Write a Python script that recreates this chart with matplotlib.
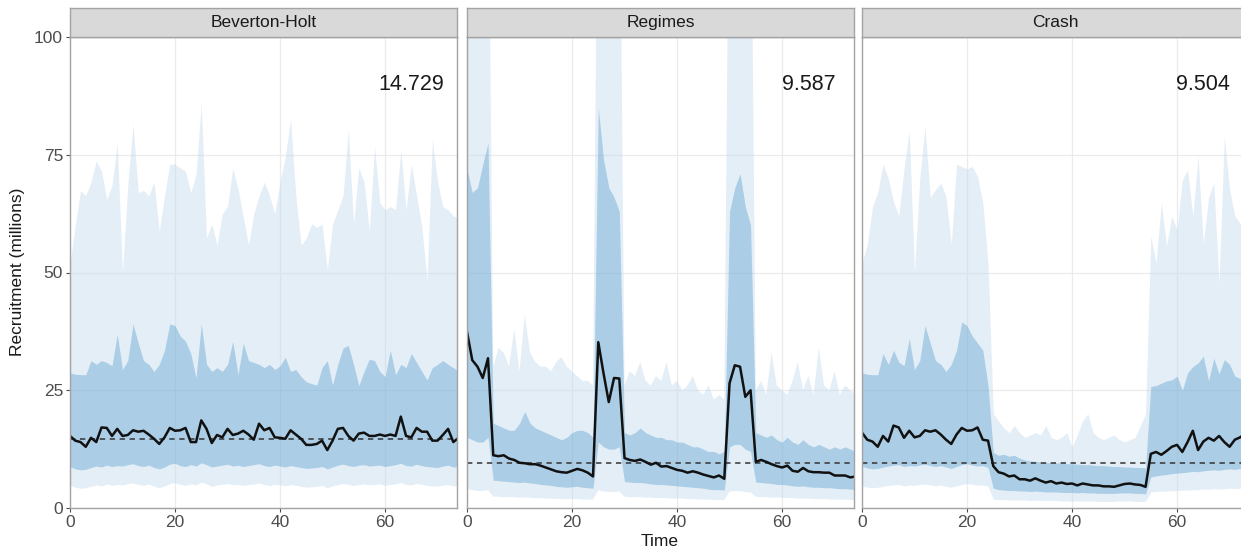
import numpy as np
import matplotlib
matplotlib.use("Agg")
import matplotlib.pyplot as plt

plt.rcParams["font.family"] = ["Liberation Sans", "DejaVu Sans"]

# ---- data ----
time = np.arange(75)
panels = ["Beverton-Holt", "Regimes", "Crash"]
ref_values = [14.729, 9.587, 9.504]

bh_median = [15.3, 14.3, 14.0, 13.0, 14.9, 14.0, 17.1, 17.0, 15.3, 16.8,
             15.3, 15.5, 16.5, 16.2, 16.4, 15.6, 14.7, 13.6, 15.0, 17.0,
             16.4, 16.5, 17.0, 14.0, 14.0, 18.6, 16.8, 13.8, 15.5, 15.0,
             16.8, 15.5, 15.8, 16.4, 15.6, 14.5, 17.9, 16.5, 17.0, 15.0,
             14.9, 14.7, 16.5, 15.6, 14.7, 13.4, 13.4, 13.6, 14.3, 12.3,
             14.3, 16.8, 17.0, 15.3, 14.3, 15.8, 16.0, 15.3, 15.3, 15.6,
             15.3, 15.6, 15.3, 19.4, 15.3, 15.0, 17.0, 16.2, 16.2, 14.3,
             14.3, 15.5, 16.8, 14.0, 14.9]
bh_in_hi = [28.7, 28.4, 28.3, 28.3, 31.3, 30.5, 31.3, 30.9, 30.2, 36.9,
            29.4, 31.3, 39.1, 35.0, 31.3, 30.5, 29.0, 30.5, 33.5, 39.1,
            38.7, 36.5, 35.4, 32.8, 27.6, 39.1, 30.5, 29.0, 29.8, 29.0,
            30.5, 35.4, 28.3, 35.0, 31.3, 30.9, 30.5, 29.8, 30.5, 29.4,
            30.2, 32.0, 29.0, 29.4, 27.9, 26.8, 26.4, 26.1, 29.8, 31.3,
            26.1, 30.5, 34.0, 34.5, 30.5, 26.0, 29.0, 31.6, 31.3, 29.0,
            27.9, 33.5, 28.3, 30.5, 29.8, 32.8, 30.9, 29.0, 27.2, 29.8,
            30.5, 31.3, 30.5, 29.8, 29.0]
bh_out_hi = [52.0, 60.0, 67.4, 66.3, 69.2, 73.7, 71.5, 65.5, 68.5, 77.4,
             49.9, 68.5, 81.5, 67.0, 67.4, 66.3, 69.2, 58.8, 66.3, 73.0,
             73.0, 72.2, 71.5, 67.0, 70.7, 86.0, 57.3, 60.3, 55.8, 62.5,
             64.0, 72.2, 67.8, 61.8, 55.8, 62.5, 66.3, 69.2, 66.3, 62.5,
             69.2, 74.5, 82.6, 66.3, 55.8, 57.3, 60.3, 59.6, 60.3, 50.6,
             60.3, 63.3, 66.3, 80.4, 60.3, 72.2, 69.2, 58.8, 76.7, 64.8,
             63.3, 64.0, 63.3, 76.0, 63.3, 73.0, 66.3, 59.6, 48.4, 78.2,
             69.2, 64.0, 63.3, 62.0, 61.5]
bh_in_lo = [8.8, 8.3, 8.1, 8.2, 8.6, 8.9, 8.7, 9.1, 8.8, 9.0,
            8.9, 9.2, 9.4, 9.0, 8.8, 9.1, 8.6, 8.3, 8.7, 9.3,
            9.5, 9.0, 8.8, 9.2, 8.9, 9.6, 9.2, 8.7, 8.9, 9.1,
            9.3, 8.9, 9.1, 8.8, 9.0, 9.2, 9.4, 9.0, 8.8, 9.1,
            8.9, 8.7, 9.0, 8.8, 8.6, 8.4, 8.5, 8.6, 8.8, 8.3,
            8.7, 9.1, 9.3, 9.0, 8.8, 9.1, 9.2, 8.9, 9.0, 9.1,
            8.8, 9.0, 9.2, 9.5, 9.0, 8.9, 9.3, 9.0, 8.8, 8.7,
            8.6, 8.9, 9.1, 8.7, 8.8]
bh_out_lo = [4.8, 4.4, 4.2, 4.3, 4.6, 4.9, 4.7, 5.1, 4.8, 5.0,
             4.9, 5.2, 5.3, 5.0, 4.8, 5.1, 4.6, 4.3, 4.7, 5.2,
             5.4, 5.0, 4.8, 5.1, 4.9, 5.5, 5.1, 4.6, 4.9, 5.0,
             5.2, 4.9, 5.0, 4.8, 5.0, 5.1, 5.3, 5.0, 4.8, 5.0,
             4.9, 4.7, 5.0, 4.8, 4.6, 4.4, 4.5, 4.6, 4.8, 4.3,
             4.7, 5.0, 5.2, 5.0, 4.8, 5.0, 5.1, 4.9, 5.0, 5.1,
             4.8, 5.0, 5.1, 5.4, 5.0, 4.9, 5.2, 5.0, 4.8, 4.7,
             4.6, 4.9, 5.0, 4.7, 4.8]

rg_median = [37.4, 31.4, 30.0, 27.6, 31.8,
             11.2, 11.0, 11.2, 10.5, 10.2, 9.6, 9.5, 9.3, 9.3, 9.0,
             8.6, 8.2, 7.8, 7.6, 7.5, 7.9, 8.3, 8.0, 7.5, 6.7,
             35.2, 28.6, 22.5, 27.6, 27.5,
             10.6, 10.2, 10.0, 10.3, 9.8, 9.2, 9.6, 8.8, 8.9, 8.5,
             8.1, 7.9, 7.5, 7.8, 7.5, 7.1, 6.8, 6.5, 6.9, 6.2,
             26.5, 30.3, 30.0, 23.6, 25.0,
             9.8, 10.2, 9.8, 9.3, 8.9, 8.6, 9.0, 7.9, 7.7, 8.5,
             7.8, 7.6, 7.6, 7.5, 7.5, 6.9, 6.9, 6.9, 6.5, 6.7]
rg_in_hi = [72.0, 67.0, 68.0, 73.0, 77.5,
            18.0, 17.5, 17.0, 16.5, 16.5, 18.0, 20.5, 18.0, 17.0, 16.5,
            16.0, 15.5, 15.0, 14.5, 15.0, 16.0, 16.5, 16.5, 16.0, 15.0,
            85.0, 74.0, 68.0, 66.0, 63.0,
            16.0, 15.5, 16.0, 17.0, 16.0, 15.5, 15.0, 15.0, 14.5, 14.5,
            14.0, 14.0, 13.5, 13.0, 13.0, 12.5, 12.0, 12.0, 11.5, 12.0,
            63.0, 68.0, 71.0, 64.0, 60.0,
            16.0, 15.5, 15.0, 15.5, 14.5, 14.0, 15.0, 14.0, 13.5, 14.5,
            13.5, 13.0, 13.5, 13.0, 12.5, 13.0, 12.5, 13.0, 12.5, 12.0]
rg_out_hi = [150, 150, 150, 150, 150,
             30, 34, 33, 30, 38, 29, 41, 33, 31, 30,
             30, 29, 31, 32, 30, 29, 28, 27, 27, 26,
             150, 150, 150, 150, 150,
             26, 29, 28, 31, 27, 26, 28, 27, 31, 26,
             27, 25, 26, 28, 25, 24, 26, 23, 24, 23,
             150, 150, 150, 150, 150,
             25, 27, 24, 33, 26, 25, 24, 27, 31, 25,
             28, 24, 34, 26, 25, 29, 24, 26, 25, 24]
rg_in_lo = [15.0, 14.5, 14.0, 14.0, 15.0,
            5.9, 5.8, 5.7, 5.6, 5.5, 5.4, 5.5, 5.3, 5.2, 5.0,
            4.9, 4.8, 4.6, 4.5, 4.4, 4.5, 4.6, 4.4, 4.3, 4.2,
            14.0, 13.0, 12.5, 12.5, 13.0,
            5.6, 5.5, 5.4, 5.4, 5.3, 5.1, 5.0, 5.0, 4.9, 4.8,
            4.7, 4.6, 4.5, 4.4, 4.3, 4.2, 4.0, 3.9, 3.9, 3.8,
            13.0, 13.5, 13.5, 12.5, 12.0,
            5.5, 5.4, 5.3, 5.2, 5.0, 5.0, 4.9, 4.7, 4.6, 4.7,
            4.5, 4.4, 4.4, 4.3, 4.3, 4.2, 4.1, 4.1, 4.0, 4.0]
rg_out_lo = [4.0, 3.8, 3.6, 3.6, 3.8,
             2.4, 2.4, 2.3, 2.3, 2.3, 2.2, 2.2, 2.2, 2.1, 2.1,
             2.0, 2.0, 1.9, 1.9, 1.9, 1.9, 1.9, 1.8, 1.8, 1.8,
             3.8, 3.5, 3.4, 3.4, 3.5,
             2.4, 2.3, 2.3, 2.3, 2.2, 2.2, 2.1, 2.1, 2.1, 2.0,
             2.0, 2.0, 1.9, 1.9, 1.8, 1.8, 1.8, 1.7, 1.7, 1.7,
             3.5, 3.6, 3.6, 3.4, 3.3,
             2.4, 2.3, 2.3, 2.2, 2.2, 2.2, 2.1, 2.1, 2.0, 2.0,
             2.0, 1.9, 1.9, 1.9, 1.8, 1.8, 1.8, 1.8, 1.7, 1.7]

cr_median = [16.0, 14.5, 14.1, 13.0, 15.3, 14.1, 17.5, 17.1, 14.9, 16.4,
             15.0, 15.3, 16.5, 16.2, 16.5, 15.6, 14.5, 13.6, 15.6, 17.0,
             16.4, 16.5, 17.1, 14.5, 14.3,
             8.9, 7.6, 7.3, 6.7, 6.9, 6.1, 6.1, 5.8, 6.3, 5.8,
             5.4, 5.7, 5.2, 5.4, 5.1, 5.2, 4.8, 5.2, 5.0, 4.8,
             4.8, 4.6, 4.6, 4.5, 4.8, 5.1, 5.2, 5.0, 4.9, 4.5,
             11.5, 11.9, 11.3, 12.1, 13.0, 13.4, 11.9, 14.0, 16.4, 12.3,
             14.1, 14.9, 14.3, 15.3, 14.0, 13.0, 14.5, 15.0, 15.8, 15.3]
cr_in_hi = [28.7, 28.4, 28.3, 28.3, 32.8, 30.5, 33.5, 31.0, 30.2, 36.0,
            29.4, 31.3, 38.7, 35.0, 31.3, 30.5, 29.0, 30.5, 33.5, 39.5,
            38.7, 36.5, 35.0, 33.5, 26.0,
            11.8, 11.2, 11.4, 11.0, 11.2, 10.6, 10.2, 10.0, 9.9, 9.8,
            9.7, 9.6, 9.6, 9.5, 9.4, 9.4, 9.3, 9.2, 9.2, 9.1,
            9.0, 9.0, 8.9, 8.8, 8.8, 8.7, 8.7, 8.6, 8.6, 8.5,
            25.8, 26.0, 26.5, 27.0, 27.2, 28.0, 25.0, 28.7, 30.0, 30.8,
            32.2, 27.0, 31.8, 28.5, 31.5, 30.5, 28.0, 27.5, 26.5, 24.0]
cr_out_hi = [52.0, 56.0, 64.0, 67.0, 73.0, 70.0, 65.0, 62.0, 72.0, 80.0,
             50.0, 70.0, 81.0, 66.0, 67.6, 69.0, 66.0, 56.0, 73.0, 72.5,
             72.0, 72.5, 70.4, 64.8, 52.0,
             20.0, 18.5, 17.0, 16.0, 17.5, 16.0, 15.0, 15.5, 16.0, 15.5,
             17.5, 15.0, 14.5, 15.0, 16.0, 13.0, 15.5, 18.5, 20.0, 16.0,
             15.0, 14.5, 15.0, 15.5, 14.5, 14.0, 14.5, 15.0, 17.5, 20.0,
             57.7, 52.0, 64.8, 55.6, 62.0, 59.0, 69.7, 71.8, 62.0, 74.7,
             56.0, 66.0, 69.0, 47.8, 78.9, 67.6, 62.0, 60.5, 59.0, 58.0]
cr_in_lo = [8.9, 8.5, 8.3, 8.4, 8.7, 8.9, 9.1, 9.2, 8.8, 9.0,
            8.9, 9.1, 9.3, 9.0, 8.8, 9.0, 8.7, 8.4, 8.8, 9.2,
            9.4, 9.1, 8.9, 9.0, 8.6,
            4.2, 3.9, 3.8, 3.7, 3.7, 3.6, 3.6, 3.5, 3.6, 3.5,
            3.4, 3.4, 3.4, 3.3, 3.3, 3.3, 3.2, 3.3, 3.2, 3.2,
            3.1, 3.1, 3.1, 3.1, 3.2, 3.2, 3.2, 3.1, 3.1, 3.0,
            6.6, 6.8, 7.0, 7.1, 7.3, 7.4, 7.5, 7.6, 7.8, 7.7,
            7.9, 8.0, 8.1, 8.0, 8.2, 8.3, 8.2, 8.4, 8.5, 8.5]
cr_out_lo = [4.7, 4.4, 4.3, 4.4, 4.6, 4.8, 4.9, 5.0, 4.7, 4.9,
             4.8, 5.0, 5.1, 4.9, 4.7, 4.9, 4.6, 4.4, 4.7, 5.0,
             5.2, 5.0, 4.8, 4.9, 4.6,
             1.9, 1.8, 1.8, 1.7, 1.7, 1.7, 1.7, 1.6, 1.7, 1.6,
             1.6, 1.6, 1.6, 1.5, 1.5, 1.5, 1.5, 1.5, 1.5, 1.5,
             1.4, 1.4, 1.4, 1.4, 1.5, 1.5, 1.5, 1.4, 1.4, 1.4,
             3.4, 3.5, 3.6, 3.6, 3.7, 3.7, 3.8, 3.8, 3.9, 3.9,
             4.0, 4.0, 4.1, 4.0, 4.1, 4.2, 4.1, 4.2, 4.3, 4.3]

series = [
    (bh_median, bh_in_lo, bh_in_hi, bh_out_lo, bh_out_hi),
    (rg_median, rg_in_lo, rg_in_hi, rg_out_lo, rg_out_hi),
    (cr_median, cr_in_lo, cr_in_hi, cr_out_lo, cr_out_hi),
]

# ---- layout (pixel based) ----
W, H = 1241, 550
fig = plt.figure(figsize=(W / 100, H / 100), dpi=100)

panel_left = [70, 467, 862]
panel_w = 387
panel_top, panel_bot = 37, 508
strip_top = 8

grey_txt = "#4D4D4D"
border = "#A3A3A3"

for i, name in enumerate(panels):
    med, in_lo, in_hi, out_lo, out_hi = series[i]
    x0 = panel_left[i] / W
    ax = fig.add_axes([x0, (H - panel_bot) / H, panel_w / W, (panel_bot - panel_top) / H])
    ax.set_axisbelow(True)
    ax.grid(True, color="#EBEBEB", lw=0.9)

    ax.fill_between(time, out_lo, out_hi, color="#C6DBEF", alpha=0.47, lw=0)
    ax.fill_between(time, in_lo, in_hi, color="#4292C6", alpha=0.35, lw=0)
    ax.axhline(ref_values[i], color="#333333", lw=1.1, ls=(0, (3.5, 3)))
    ax.plot(time, med, color="#111111", lw=1.8)
    ax.text(65, 90, f"{ref_values[i]:.3f}", ha="center", va="center",
            fontsize=15.5, color="#1A1A1A")

    ax.set_xlim(0, 73.7)
    ax.set_ylim(0, 100)
    ax.set_xticks([0, 20, 40, 60])
    ax.set_yticks([0, 25, 50, 75, 100])
    ax.tick_params(colors=grey_txt, labelsize=12.5, length=3, width=0.8,
                   labelcolor=grey_txt, pad=2)
    if i > 0:
        ax.tick_params(axis="y", labelleft=False, length=0)
    for sp in ax.spines.values():
        sp.set_color(border)
        sp.set_linewidth(1.0)

    # facet strip
    sax = fig.add_axes([x0, (H - panel_top) / H, panel_w / W, (panel_top - strip_top) / H])
    sax.set_facecolor("#D9D9D9")
    sax.set_xticks([])
    sax.set_yticks([])
    for sp in sax.spines.values():
        sp.set_color(border)
        sp.set_linewidth(1.0)
    sax.text(0.5, 0.5, name, transform=sax.transAxes, ha="center", va="center",
             fontsize=12.5, color="#1A1A1A")

fig.text(18 / W, 1 - 272 / H, "Recruitment (millions)", rotation=90,
         ha="center", va="center", fontsize=12.5, color="#1A1A1A")
fig.text(660 / W, 1 - 541 / H, "Time", ha="center", va="center",
         fontsize=12.5, color="#1A1A1A")

fig.savefig("out.png", dpi=100)
